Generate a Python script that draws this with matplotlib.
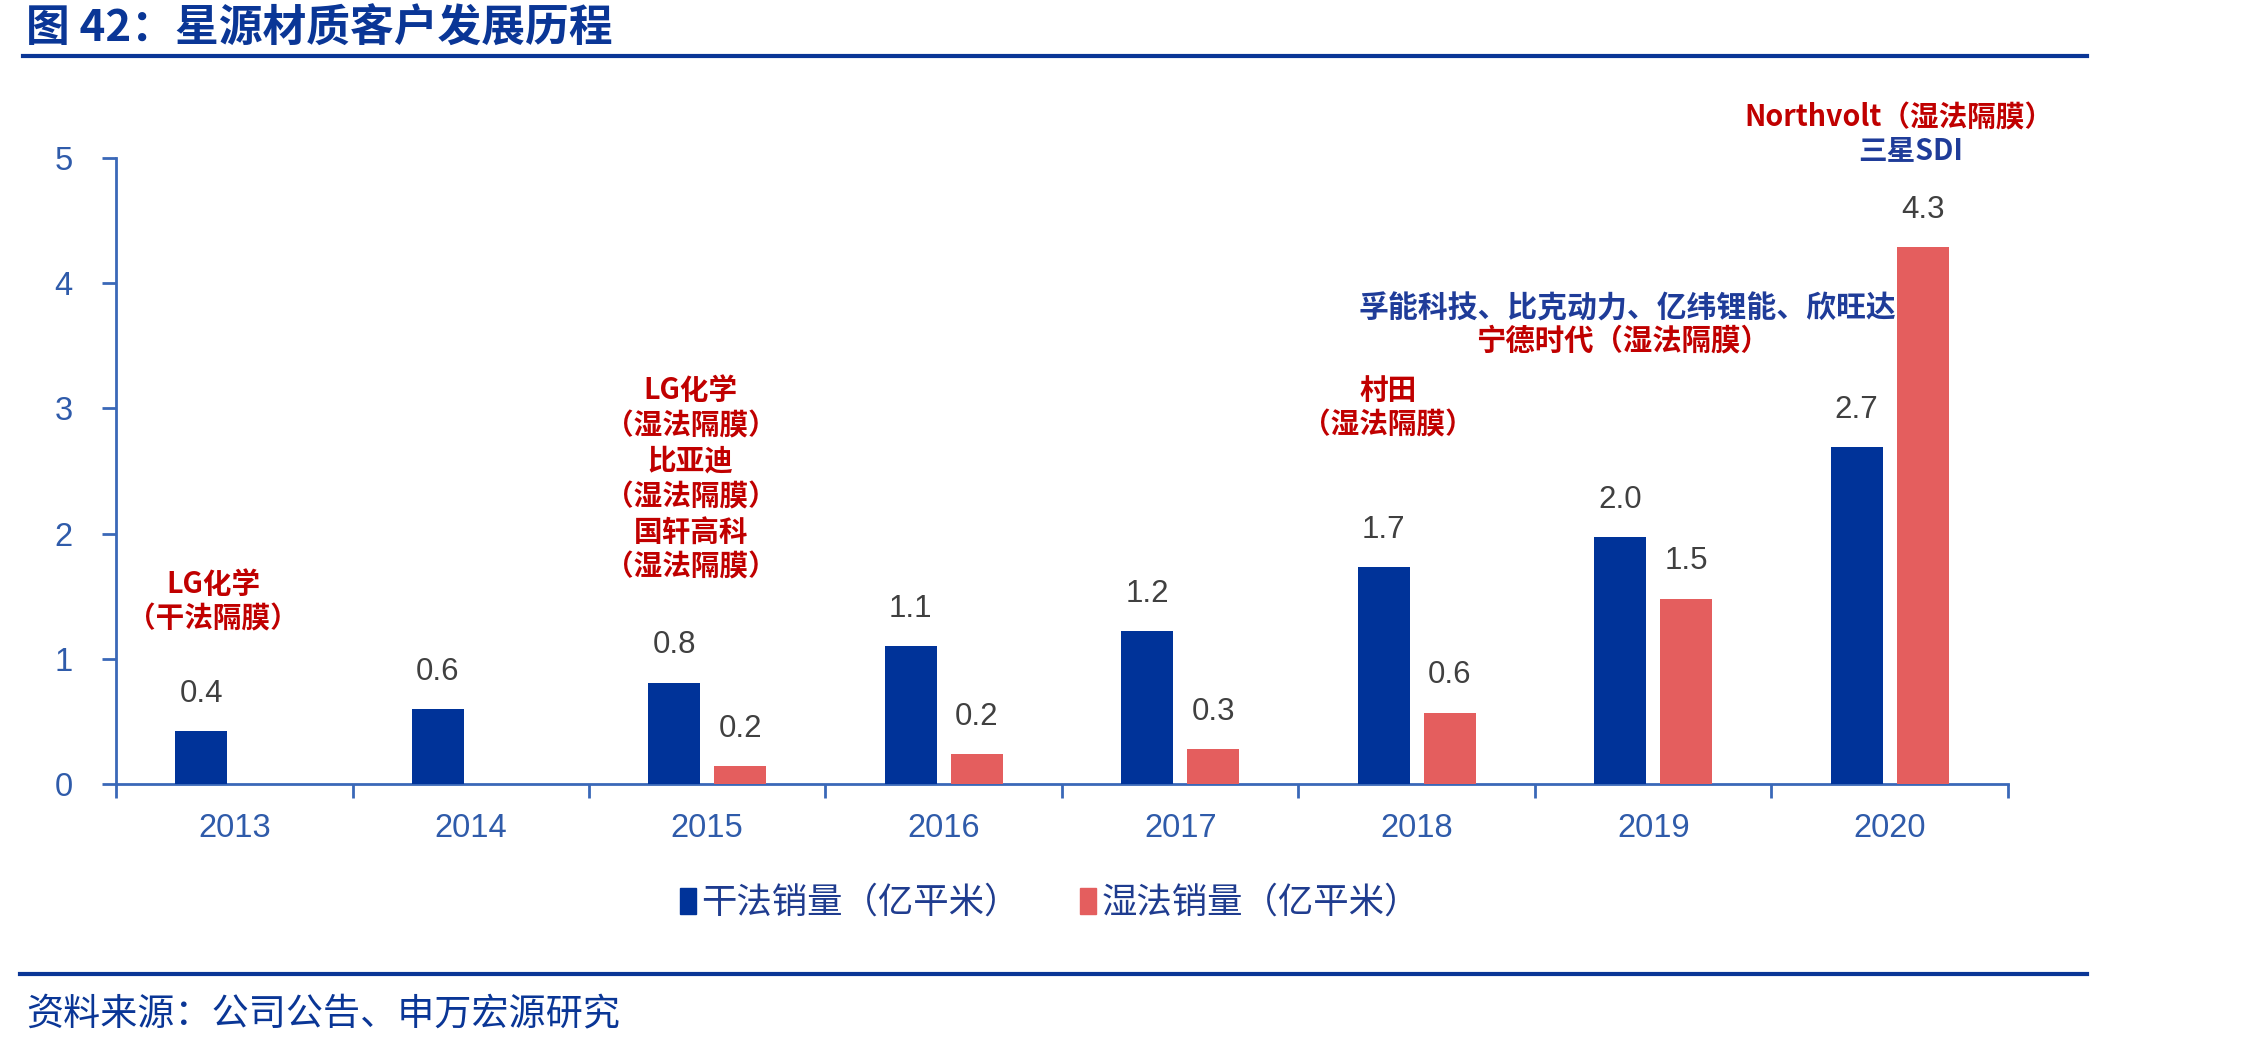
import numpy as np
import matplotlib
matplotlib.use('Agg')
import matplotlib.pyplot as plt
from matplotlib.patches import Patch

plt.rcParams['font.family'] = ['Liberation Sans', 'Noto Sans CJK SC', 'DejaVu Sans']

# data
years = ['2013', '2014', '2015', '2016', '2017', '2018', '2019', '2020']
dry = [0.42, 0.60, 0.81, 1.10, 1.22, 1.73, 1.97, 2.69]
wet = [np.nan, np.nan, 0.14, 0.24, 0.28, 0.57, 1.48, 4.29]
dry_lbl = ['0.4', '0.6', '0.8', '1.1', '1.2', '1.7', '2.0', '2.7']
wet_lbl = ['', '', '0.2', '0.2', '0.3', '0.6', '1.5', '4.3']
series = ['干法销量（亿平米）', '湿法销量（亿平米）']

# customer notes: (x in category units, y in value units, text, colour, size)
RED = '#C00000'
BLUE = '#1F3C99'
notes = [
    (-0.09, 1.46, 'LG化学\n（干法隔膜）', RED, 20.6),
    (1.93, 2.44, 'LG化学\n（湿法隔膜）\n比亚迪\n（湿法隔膜）\n国轩高科\n（湿法隔膜）', RED, 20.6),
    (4.88, 3.01, '村田\n（湿法隔膜）', RED, 20.6),
    (5.89, 3.80, '孚能科技、比克动力、亿纬锂能、欣旺达', BLUE, 21.5),
    (5.87, 3.54, '宁德时代（湿法隔膜）', RED, 21.2),
    (7.04, 5.32, 'Northvolt（湿法隔膜）', RED, 20.6),
    (7.09, 5.06, '三星SDI', BLUE, 20.6),
]

C_DRY = '#003399'
C_WET = '#E45E5E'
AX_C = '#3A68B8'
TXT_C = '#2F5BAA'
HEAD_C = '#0A3696'
CJK = ['Noto Sans CJK SC', 'DejaVu Sans']

fig = plt.figure(figsize=(22.55, 10.47), dpi=100)
ax = fig.add_axes([116 / 2255, 1 - 784 / 1047, (2008 - 116) / 2255, (784 - 158) / 1047])

x = np.arange(len(years))
w = 0.22
ax.bar(x - 0.14, dry, w, color=C_DRY, zorder=3)
ax.bar(x + 0.14, wet, w, color=C_WET, zorder=3)

for i in range(len(years)):
    ax.annotate(dry_lbl[i], (x[i] - 0.14, dry[i]), xytext=(0, 16), textcoords='offset points',
                ha='center', va='bottom', fontsize=22.5, color='#404040')
    if wet_lbl[i]:
        ax.annotate(wet_lbl[i], (x[i] + 0.14, wet[i]), xytext=(0, 16), textcoords='offset points',
                    ha='center', va='bottom', fontsize=22.5, color='#404040')

for nx, ny, t, c, fs in notes:
    ax.text(nx, ny, t, ha='center', va='center', fontsize=fs, fontweight='bold',
            color=c, family=CJK, linespacing=1.22, clip_on=False)

ax.set_xlim(-0.5, len(years) - 0.5)
ax.set_ylim(0, 5)
ax.set_yticks(range(6))
ax.set_xticks(np.arange(len(years) + 1) - 0.5)
ax.set_xticklabels([])
ax.set_xticks(x, minor=True)
ax.set_xticklabels(years, minor=True)
ax.tick_params(axis='x', which='major', length=10, width=2, color=AX_C, direction='out')
ax.tick_params(axis='x', which='minor', length=0, pad=21, labelsize=23.5, labelcolor=TXT_C)
ax.tick_params(axis='y', length=10, width=2, color=AX_C, pad=21, labelsize=23.5, labelcolor=TXT_C)
for s in ['top', 'right']:
    ax.spines[s].set_visible(False)
for s in ['left', 'bottom']:
    ax.spines[s].set_color(AX_C)
    ax.spines[s].set_linewidth(2)

handles = [Patch(color=C_DRY), Patch(color=C_WET)]
leg = fig.legend(handles, series, loc='center', bbox_to_anchor=(1050 / 2255, 1 - 903 / 1047),
                 ncol=2, frameon=False, handlelength=0.45, handleheight=0.75, handletextpad=0.15,
                 columnspacing=1.7, prop={'family': CJK, 'size': 25.5})
for t in leg.get_texts():
    t.set_color('#1F3C8F')

# header, rules and source
fig.text(26 / 2255, 1 - 29 / 1047, '图 42：星源材质客户发展历程', ha='left', va='center',
         fontsize=31.5, fontweight='bold', color=HEAD_C, family=CJK)
fig.add_artist(plt.Line2D([23 / 2255, 2087 / 2255], [1 - 56 / 1047] * 2, color=HEAD_C, lw=3))
fig.add_artist(plt.Line2D([20 / 2255, 2087 / 2255], [1 - 974 / 1047] * 2, color=HEAD_C, lw=3))
fig.text(26 / 2255, 1 - 1014 / 1047, '资料来源：公司公告、申万宏源研究', ha='left', va='center',
         fontsize=26.7, color=HEAD_C, family=CJK)

fig.savefig('out.png', dpi=100, facecolor='white')
